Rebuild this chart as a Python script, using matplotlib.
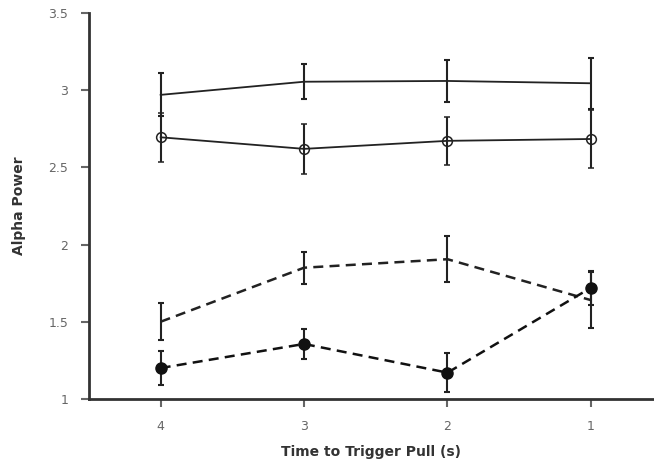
import numpy as np
import matplotlib.pyplot as plt

time_s = np.array([4, 3, 2, 1])

# solid lines
top_mean = np.array([2.97, 3.055, 3.06, 3.045])
top_err = np.array([0.14, 0.115, 0.135, 0.165])
open_mean = np.array([2.695, 2.62, 2.672, 2.684])
open_err = np.array([0.158, 0.16, 0.155, 0.19])

# dashed lines
dash_mean = np.array([1.50, 1.85, 1.905, 1.64])
dash_err = np.array([0.12, 0.105, 0.15, 0.18])
filled_mean = np.array([1.20, 1.356, 1.17, 1.72])
filled_err = np.array([0.11, 0.10, 0.125, 0.11])

yticks = [1, 1.5, 2, 2.5, 3, 3.5]
ytick_labels = ['1', '1.5', '2', '2.5', '3', '3.5']

fig = plt.figure(figsize=(6.54, 4.66), dpi=100)
ax = fig.add_axes([0.136, 0.144, 0.864, 0.828])

eb = dict(ecolor='#222222', elinewidth=1.5, capsize=2.3, capthick=1.5)

ax.errorbar(time_s, top_mean, yerr=top_err, color='#222222', lw=1.3, **eb)
ax.errorbar(time_s, open_mean, yerr=open_err, color='#222222', lw=1.3,
            marker='o', ms=7, mfc='none', mec='#222222', mew=1.1, **eb)
ax.errorbar(time_s, dash_mean, yerr=dash_err, color='#222222', lw=1.8,
            ls=(0, (4, 2.5)), **eb)
ax.errorbar(time_s, filled_mean, yerr=filled_err, color='#111111', lw=1.8,
            ls=(0, (4, 2.5)), marker='o', ms=8, mfc='#111111', mec='#111111', **eb)

ax.set_xlim(4.5, 0.56)
ax.set_ylim(1, 3.5)
ax.set_xticks(time_s)
ax.set_xticklabels(['4', '3', '2', '1'])
ax.set_yticks(yticks)
ax.set_yticklabels(ytick_labels)

for s in ['top', 'right']:
    ax.spines[s].set_visible(False)
for s in ['left', 'bottom']:
    ax.spines[s].set_linewidth(2.0)
    ax.spines[s].set_color('#333333')

ax.tick_params(axis='both', direction='out', length=6, width=1.5, color='#666666',
               labelsize=9, labelcolor='#666666', pad=9)

ax.set_xlabel('Time to Trigger Pull (s)', fontsize=10, fontweight='bold',
              color='#333333', labelpad=9)
ax.set_ylabel('Alpha Power', fontsize=10, fontweight='bold',
              color='#333333', labelpad=16)

fig.savefig('out.png', dpi=100)
